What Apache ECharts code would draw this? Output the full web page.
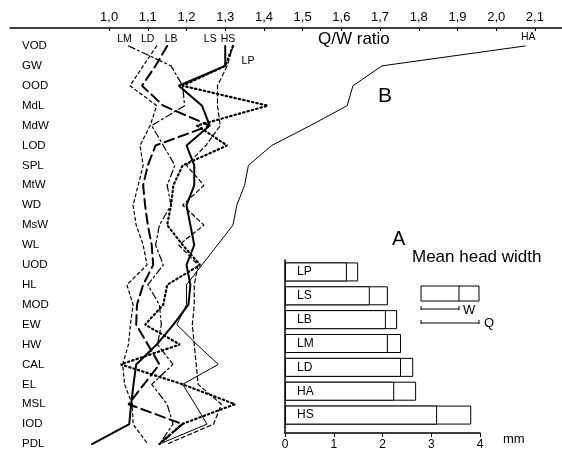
<!DOCTYPE html>
<html><head><meta charset="utf-8">
<script src="https://cdn.jsdelivr.net/npm/echarts@6/dist/echarts.min.js"></script>
<style>html,body{margin:0;padding:0;background:#fff}#c{width:562px;height:463px}</style>
</head><body><div id="c"></div>
<script>
// ---- data ----
const rows = ['VOD','GW','OOD','MdL','MdW','LOD','SPL','MtW','WD','MsW','WL','UOD','HL','MOD','EW','HW','CAL','EL','MSL','IOD','PDL'];
const qwTicks = [1.0,1.1,1.2,1.3,1.4,1.5,1.6,1.7,1.8,1.9,2.0,2.1];
const LM = [1.05,1.16,1.19,1.195,1.11,1.14,1.17,1.15,1.16,1.13,1.12,1.14,1.10,1.13,1.135,1.125,1.165,1.11,1.15,1.165,1.13];
const LD = [1.123,1.088,1.054,1.123,1.106,1.08,1.088,1.075,1.062,1.07,1.088,1.098,1.046,1.062,1.055,1.05,1.035,1.04,1.06,1.062,1.10];
const LB = [1.15,1.12,1.085,1.14,1.26,1.12,1.10,1.088,1.093,1.10,1.11,1.114,1.088,1.072,1.07,1.10,1.13,1.09,1.05,1.19,1.13];
const LS = [1.30,1.30,1.18,1.24,1.26,1.20,1.22,1.22,1.20,1.21,1.22,1.20,1.21,1.205,1.166,1.123,1.07,1.063,1.057,1.052,0.956];
const HS = [1.32,1.305,1.28,1.28,1.287,1.25,1.20,1.245,1.19,1.245,1.18,1.23,1.22,1.22,1.215,1.22,1.225,1.23,1.29,1.27,1.15];
const LP = [1.32,1.30,1.19,1.41,1.227,1.305,1.19,1.166,1.16,1.15,1.19,1.235,1.15,1.14,1.093,1.183,1.03,1.19,1.325,1.188,1.13];
const HA = [2.075,1.705,1.63,1.615,1.52,1.42,1.36,1.35,1.33,1.32,1.28,1.24,1.20,1.20,1.175,1.227,1.282,1.19,1.222,1.253,1.13];

const barCats = ['LP','LS','LB','LM','LD','HA','HS'];
const headW = [1.27,1.74,2.07,2.11,2.38,2.24,3.12];
const headQ = [1.50,2.11,2.30,2.38,2.63,2.69,3.82];
const mmTicks = [0,1,2,3,4];

// ---- styles ----
const FONT = 'Liberation Sans, Arial, Helvetica, sans-serif';
// label placement relative to the labelled point (pixels)
const lineDefs = [
  {name:'LM', data:LM, w:1.2, type:[7,3,2,3], lab:{idx:0, pos:[-4,-7]}},
  {name:'LD', data:LD, w:1.2, type:[3,3], lab:{idx:0, pos:[-9,-7]}},
  {name:'LB', data:LB, w:2, type:[10,5], lab:{idx:0, pos:[4,-7]}},
  {name:'LS', data:LS, w:2, type:'solid', lab:{idx:0, pos:[-15,-7]}},
  {name:'HS', data:HS, w:1.2, type:[4,3], lab:{idx:0, pos:[-5,-7]}},
  {name:'LP', data:LP, w:2.2, type:[1.5,3], lab:{idx:0, pos:[15,15]}},
  {name:'HA', data:HA, w:1, type:'solid', lab:{idx:0, pos:[3,-9]}}
];

const lineSeries = lineDefs.map(d => ({
  type:'line', name:d.name, xAxisIndex:0, yAxisIndex:0,
  symbol:'circle', symbolSize:0, showSymbol:true,
  itemStyle:{color:'#000'},
  lineStyle:{color:'#000', width:d.w, type:d.type, cap:'round'},
  labelLayout:{hideOverlap:false},
  z:3,
  data: d.data.map((v,i) => i===d.lab.idx
    ? {value:[v, rows[i]], label:{show:true, position:d.lab.pos, align:'center', verticalAlign:'middle', formatter:d.name, color:'#000', fontSize:10.5, fontFamily:FONT}}
    : [v, rows[i]])
}));

const chart = echarts.init(document.getElementById('c'), null, {renderer:'canvas'});
const option = {
  animation:false,
  backgroundColor:'#fff',
  grid:[
    {left:10, top:36, width:552, height:418},
    {left:285, top:260, width:195, height:167}
  ],
  xAxis:[
    {type:'value', gridIndex:0, position:'top', offset:8, min:0.744, max:2.17,
     axisLine:{show:true, onZero:false, lineStyle:{color:'#000', width:1.5}},
     axisTick:{show:true, inside:true, length:3, customValues:qwTicks, lineStyle:{color:'#000'}},
     axisLabel:{customValues:qwTicks, margin:4, color:'#000', fontSize:13, fontFamily:FONT,
       formatter:v => v.toFixed(1).replace('.', ',')},
     splitLine:{show:false}},
    {type:'value', gridIndex:1, position:'bottom', offset:6, min:0, max:4, interval:1,
     axisLine:{show:true, onZero:false, lineStyle:{color:'#000', width:1.5}},
     axisTick:{show:true, length:4, lineStyle:{color:'#000'}},
     axisLabel:{margin:6, color:'#000', fontSize:12, fontFamily:FONT},
     splitLine:{show:false}}
  ],
  yAxis:[
    {type:'category', gridIndex:0, data:rows, inverse:true,
     axisLine:{show:false}, axisTick:{show:false},
     axisLabel:{inside:true, margin:12, color:'#000', fontSize:11.5, fontFamily:FONT, padding:[8,0,0,0]}},
    {type:'category', gridIndex:1, data:barCats, inverse:true,
     axisLine:{show:true, lineStyle:{color:'#000', width:1.5}}, axisTick:{show:false}, axisLabel:{show:false}}
  ],
  series:[
    ...lineSeries,
    {type:'bar', name:'Q', xAxisIndex:1, yAxisIndex:1, data:headQ, barWidth:19,
     itemStyle:{color:'#fff', borderColor:'#000', borderWidth:1}, z:2},
    {type:'bar', name:'W', xAxisIndex:1, yAxisIndex:1, data:headW, barWidth:19, barGap:'-100%',
     itemStyle:{color:'#fff', borderColor:'#000', borderWidth:1}, z:3,
     label:{show:true, position:'insideLeft', distance:12, formatter:p => p.name, color:'#000', fontSize:12, fontFamily:FONT}}
  ],
  graphic:[
    {type:'line', shape:{x1:285, y1:427, x2:285, y2:434}, style:{stroke:'#000', lineWidth:1.5}},
    {type:'text', left:318, top:31, style:{text:'Q/W ratio', font:'17px '+FONT, fill:'#000'}},
    {type:'text', left:378, top:86, style:{text:'B', font:'21px '+FONT, fill:'#000'}},
    {type:'text', left:392, top:229, style:{text:'A', font:'20px '+FONT, fill:'#000'}},
    {type:'text', left:412, top:249, style:{text:'Mean head width', font:'17px '+FONT, fill:'#000'}},
    {type:'rect', shape:{x:421, y:286, width:58, height:15}, style:{fill:'#fff', stroke:'#000', lineWidth:1}},
    {type:'line', shape:{x1:459, y1:286, x2:459, y2:301}, style:{stroke:'#000', lineWidth:1}},
    {type:'line', shape:{x1:421, y1:309, x2:459, y2:309}, style:{stroke:'#000', lineWidth:1}},
    {type:'line', shape:{x1:421, y1:306, x2:421, y2:310}, style:{stroke:'#000', lineWidth:1}},
    {type:'line', shape:{x1:459, y1:306, x2:459, y2:310}, style:{stroke:'#000', lineWidth:1}},
    {type:'text', left:463, top:304, style:{text:'W', font:'13px '+FONT, fill:'#000'}},
    {type:'line', shape:{x1:421, y1:323, x2:479, y2:323}, style:{stroke:'#000', lineWidth:1}},
    {type:'line', shape:{x1:421, y1:320, x2:421, y2:324}, style:{stroke:'#000', lineWidth:1}},
    {type:'line', shape:{x1:479, y1:320, x2:479, y2:324}, style:{stroke:'#000', lineWidth:1}},
    {type:'text', left:484, top:317, style:{text:'Q', font:'13px '+FONT, fill:'#000'}},
    {type:'text', left:503, top:433, style:{text:'mm', font:'13px '+FONT, fill:'#000'}}
  ]
};
chart.setOption(option);
</script>
</body></html>
